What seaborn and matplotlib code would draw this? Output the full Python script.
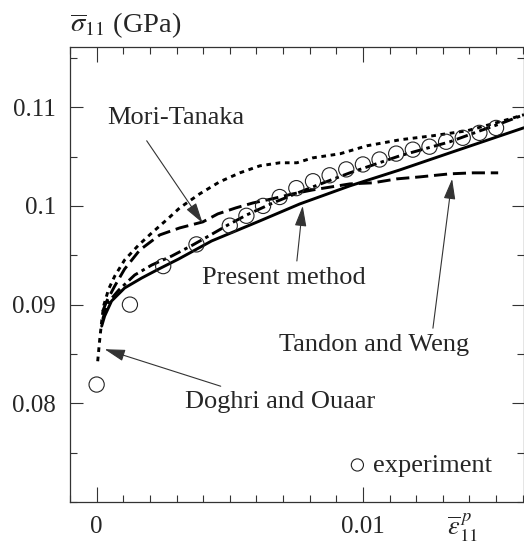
import numpy as np
import pandas as pd
import seaborn as sns
import matplotlib.pyplot as plt
from matplotlib.ticker import MultipleLocator, FuncFormatter

# Experiment (open circles)
exp_strain = [0, 0.00125, 0.0025, 0.00375, 0.005, 0.005625, 0.00625, 0.006875, 0.0075,
              0.008125, 0.00875, 0.009375, 0.01, 0.010625, 0.01125, 0.011875, 0.0125,
              0.013125, 0.01375, 0.014375, 0.015]
exp_stress = [0.0819, 0.0900, 0.0939, 0.0961, 0.0980, 0.0990, 0.1000, 0.1009, 0.1018,
              0.1025, 0.1031, 0.1037, 0.1042, 0.1047, 0.1053, 0.1057, 0.1060,
              0.1065, 0.1069, 0.1074, 0.1079]

# Present method (solid)
present_strain = [0.00019, 0.0003, 0.00056, 0.00105, 0.00169, 0.00233, 0.00308, 0.00432,
                  0.00613, 0.00763, 0.00951, 0.01139, 0.01327, 0.01605]
present_stress = [0.08782, 0.08883, 0.09036, 0.09168, 0.09269, 0.0936, 0.09462, 0.09645,
                  0.09848, 0.1002, 0.10203, 0.10365, 0.10538, 0.10792]

# Doghri and Ouaar (dotted)
doghri_strain = [0.00004, 0.00011, 0.00019, 0.00026, 0.00045, 0.00068, 0.00105, 0.00158,
                 0.00207, 0.00271, 0.00312, 0.00387, 0.00462, 0.00538, 0.00613, 0.00688,
                 0.00752, 0.00812, 0.00914, 0.01015, 0.01139, 0.01263, 0.01391, 0.01515,
                 0.01605]
doghri_stress = [0.08426, 0.08629, 0.08832, 0.08985, 0.09157, 0.09289, 0.09452, 0.09604,
                 0.09726, 0.09878, 0.0998, 0.10122, 0.10244, 0.10335, 0.10406, 0.10437,
                 0.10437, 0.10487, 0.10528, 0.10609, 0.1067, 0.10711, 0.10761, 0.10853,
                 0.10924]

# Mori-Tanaka / Tandon and Weng (long dashes)
mt_strain = [0.00023, 0.00038, 0.00068, 0.00105, 0.00162, 0.00237, 0.00312, 0.00399,
             0.00455, 0.00523, 0.00587, 0.00658, 0.00737, 0.00812, 0.00951, 0.01038,
             0.01128, 0.01214, 0.01327, 0.01414, 0.01508]
mt_stress = [0.08934, 0.09036, 0.09188, 0.0936, 0.09553, 0.09706, 0.09777, 0.09838,
             0.09919, 0.0998, 0.1003, 0.10071, 0.10122, 0.10162, 0.10223, 0.10234,
             0.10274, 0.10294, 0.10325, 0.10335, 0.10335]

# dash-dot curve
dd_strain = [0.00023, 0.00041, 0.00083, 0.00143, 0.00207, 0.00282, 0.00361, 0.00421,
             0.00493, 0.00564, 0.00662, 0.00737, 0.00812, 0.00951, 0.01139, 0.01327,
             0.0144, 0.01515, 0.01605]
dd_stress = [0.08853, 0.09015, 0.09147, 0.093, 0.09401, 0.09492, 0.09604, 0.09695,
             0.09807, 0.09909, 0.1003, 0.10112, 0.10193, 0.10335, 0.10508, 0.1065,
             0.10761, 0.10832, 0.10924]

curves = pd.concat([
    pd.DataFrame({"strain": present_strain, "stress": present_stress, "model": "present"}),
    pd.DataFrame({"strain": doghri_strain, "stress": doghri_stress, "model": "doghri"}),
    pd.DataFrame({"strain": mt_strain, "stress": mt_stress, "model": "mt"}),
    pd.DataFrame({"strain": dd_strain, "stress": dd_stress, "model": "dd"}),
])
dash_map = {"present": "", "doghri": (1.6, 1.6), "mt": (4.5, 2.0), "dd": (4.0, 1.5, 1.2, 1.5)}

sns.set_style("ticks")
plt.rcParams["font.family"] = ["Liberation Serif", "DejaVu Serif"]
plt.rcParams["mathtext.fontset"] = "stix"
plt.rcParams["font.size"] = 18

fig = plt.figure(figsize=(5.24, 5.48), dpi=100)
ax = fig.add_axes([70 / 524, 46 / 548, 454 / 524, 455 / 548])

sns.lineplot(data=curves, x="strain", y="stress", style="model", dashes=dash_map,
             color="black", lw=2.1, estimator=None, sort=False, legend=False, ax=ax)
sns.scatterplot(x=exp_strain, y=exp_stress, marker="o", s=120, facecolor="none",
                edgecolor="#222222", linewidth=0.8, label="experiment", ax=ax, zorder=3)

ax.set_xlim(-0.001, 0.01605)
ax.set_ylim(0.07, 0.1161)
ax.set_xticks([0, 0.01])
ax.set_yticks([0.08, 0.09, 0.1, 0.11])
ax.xaxis.set_minor_locator(MultipleLocator(0.001))
ax.yaxis.set_minor_locator(MultipleLocator(0.005))
fmt = FuncFormatter(lambda v, p: f"{v:g}")
ax.xaxis.set_major_formatter(fmt)
ax.yaxis.set_major_formatter(fmt)
ax.tick_params(which="both", direction="in", top=True, right=True, width=0.8,
               color="#333333", labelsize=18)
ax.tick_params(axis="x", which="major", length=11, pad=10)
ax.tick_params(axis="y", which="major", length=9, pad=10)
ax.tick_params(which="minor", length=5)
for s in ax.spines.values():
    s.set_linewidth(0.9)
    s.set_color("#333333")
ax.set_xlabel("")
ax.set_ylabel("")

ax.text(0, 1.033, r"$\overline{\sigma}_{11}$ (GPa)", transform=ax.transAxes,
        ha="left", va="baseline", fontsize=20.5)
ax.text(0.83, -0.0725, r"$\overline{\epsilon}_{11}^{\,p}$", transform=ax.transAxes,
        ha="left", va="baseline", fontsize=19)

# labels and arrows
labels = ["Mori-Tanaka", "Present method", "Tandon and Weng", "Doghri and Ouaar"]
label_x = [0.00297, 0.00703, 0.01041, 0.00688]
label_y = [0.10833, 0.09208, 0.08528, 0.07949]
tail_x = [0.00188, 0.00752, 0.01263, 0.00466]
tail_y = [0.1066, 0.09442, 0.08761, 0.08173]
head_x = [0.00398, 0.00774, 0.01335, 0.0003]
head_y = [0.09827, 0.1, 0.10274, 0.08548]

for lab, lx, ly in zip(labels, label_x, label_y):
    ax.text(lx, ly, lab, ha="center", va="baseline", fontsize=19)
for tx, ty, hx, hy in zip(tail_x, tail_y, head_x, head_y):
    ax.annotate("", xy=(hx, hy), xytext=(tx, ty),
                arrowprops=dict(arrowstyle="-|>,head_length=0.7,head_width=0.2",
                                lw=0.8, color="#333333", shrinkA=0, shrinkB=0))

ax.legend(loc="center right", bbox_to_anchor=(0.93, 0.081), frameon=False,
          borderpad=0, borderaxespad=0, handlelength=1.2, handletextpad=0.0,
          markerscale=0.8, fontsize=19)

fig.savefig("out.png", dpi=100)
